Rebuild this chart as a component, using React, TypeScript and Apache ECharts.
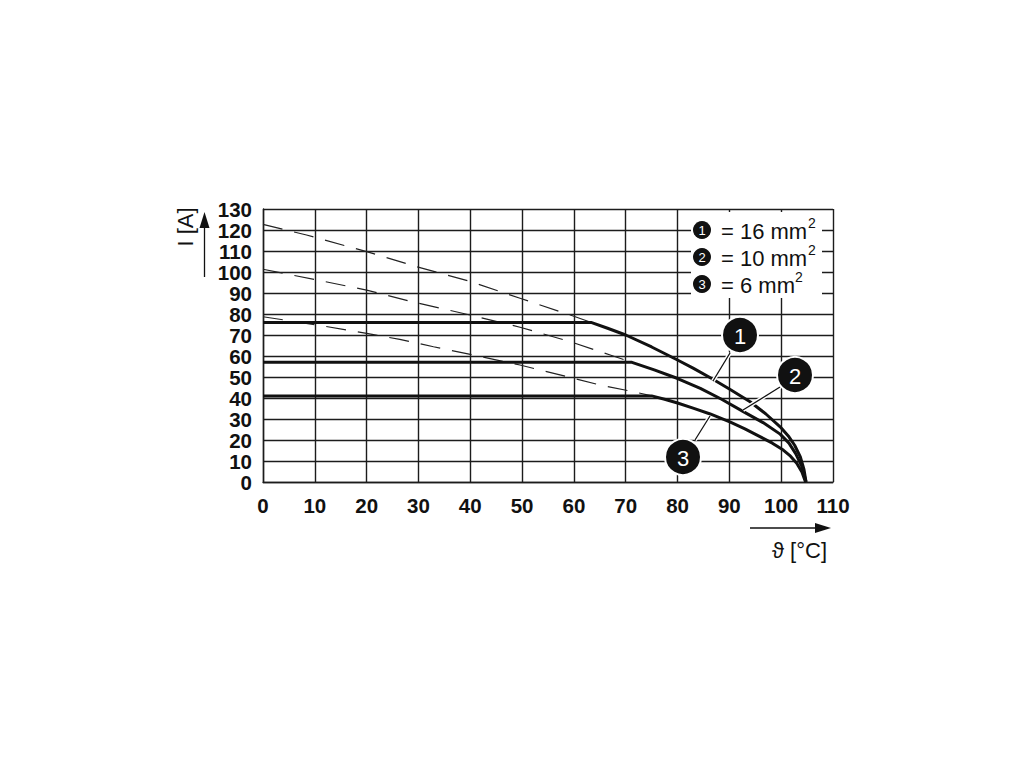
import React, { useEffect, useRef } from "react";
import * as echarts from "echarts";

const xTicks = [0, 10, 20, 30, 40, 50, 60, 70, 80, 90, 100, 110];
const yTicks = [0, 10, 20, 30, 40, 50, 60, 70, 80, 90, 100, 110, 120, 130];

// solid derating curves [temperature °C, current A]
const curve16: number[][] = [
  [0, 76], [63.3, 76], [66.5, 73.2], [70, 70], [75, 64.3], [79.9, 58.2],
  [83, 54.2], [86.5, 49.4], [90, 44.3], [94, 38.2], [97, 32.5],
  [99.8, 26.3], [101.5, 21.5], [102.6, 17.5], [103.7, 12], [104.4, 6], [104.8, 0],
];
const curve10: number[][] = [
  [0, 57], [71.2, 57], [75.5, 53.4], [79.9, 49.4], [84.4, 44.6], [88.5, 39.4],
  [92.7, 33.5], [96.5, 28.3], [99.8, 22.8], [101.5, 18.5], [102.8, 13.5],
  [104, 7.3], [104.8, 0],
];
const curve6: number[][] = [
  [0, 41], [75, 41], [77.5, 39.4], [80, 37.6], [83, 35.2], [86.3, 32.4],
  [90.2, 28.5], [93, 25.3], [95.9, 21.6], [98.3, 18.5], [100.4, 15.2],
  [101.8, 12.3], [103, 8.9], [104, 4.8], [104.7, 0],
];
// dashed extrapolations
const dash16: number[][] = [
  [0, 122.7], [8.4, 117.6], [20, 109.7], [29.7, 102.5], [40, 95.5],
  [49.6, 87.5], [59.3, 79.5], [63.3, 76],
];
const dash10: number[][] = [
  [0, 101.3], [10.4, 96.2], [20, 91.4], [28, 86.3], [40, 79.5],
  [49.6, 73.7], [59.3, 66.8], [67, 60.5], [71.2, 57],
];
const dash6: number[][] = [
  [0, 78.7], [10.4, 74.8], [20, 70.8], [26.4, 67.9], [32.9, 64.4],
  [40.6, 60.5], [49.6, 55.7], [57.3, 51], [65, 46.2], [71.5, 43], [75, 41],
];

const legendNums = ["1", "2", "3"];
const legendTexts = ["= 16 mm", "= 10 mm", "= 6 mm"];

const FONT = "'Liberation Sans', Arial, Helvetica, sans-serif";

export default function App() {
  const ref = useRef<HTMLDivElement>(null);
  useEffect(() => {
    if (!ref.current) return;
    const chart = echarts.init(ref.current, undefined, { renderer: "svg" });
    const gridColor = "#1c1c1c";
    const solid = (data: number[][], name: string) => ({
      type: "line",
      name,
      data,
      symbol: "none",
      lineStyle: { color: "#111", width: 3, join: "round" },
      z: 4,
    });
    const dashed = (data: number[][], name: string) => ({
      type: "line",
      name,
      data,
      symbol: "none",
      lineStyle: { color: "#222", width: 1.2, type: [20, 12] },
      z: 3,
    });

    const legendY = [230, 257, 284];
    const legendGraphics: any[] = [
      { type: "rect", shape: { x: 691, y: 212, width: 131, height: 86 }, style: { fill: "#fff" }, z: 10 },
    ];
    legendNums.forEach((n, i) => {
      legendGraphics.push({ type: "circle", shape: { cx: 702, cy: legendY[i], r: 9 }, style: { fill: "#111" }, z: 11 });
      legendGraphics.push({
        type: "text", x: 702, y: legendY[i] + 0.5, z: 12,
        style: { text: n, fill: "#fff", font: `13px ${FONT}`, lineHeight: 13, align: "center", verticalAlign: "middle" },
      });
      legendGraphics.push({
        type: "text", x: 721, y: legendY[i] + 1, z: 12,
        style: { text: legendTexts[i], fill: "#111", font: `22px ${FONT}`, lineHeight: 18, align: "left", verticalAlign: "middle" },
      });
    });
    const supX = [808, 808, 795];
    legendNums.forEach((_, i) => {
      legendGraphics.push({
        type: "text", x: supX[i], y: legendY[i] - 7, z: 12,
        style: { text: "2", fill: "#111", font: `14px ${FONT}`, lineHeight: 10, align: "left", verticalAlign: "middle" },
      });
    });

    const callouts = [
      { c: [740, 335], l: [730, 353, 713, 381], t: "1" },
      { c: [795, 375], l: [780, 387, 743, 410], t: "2" },
      { c: [683, 457], l: [695, 440, 710, 416], t: "3" },
    ];
    const calloutGraphics: any[] = [];
    callouts.forEach((co) => {
      calloutGraphics.push({
        type: "line", z: 13,
        shape: { x1: co.l[0], y1: co.l[1], x2: co.l[2], y2: co.l[3] },
        style: { stroke: "#fff", lineWidth: 4 },
      });
      calloutGraphics.push({
        type: "line", z: 14,
        shape: { x1: co.l[0], y1: co.l[1], x2: co.l[2], y2: co.l[3] },
        style: { stroke: "#111", lineWidth: 1.3 },
      });
      calloutGraphics.push({
        type: "circle", z: 15, shape: { cx: co.c[0], cy: co.c[1], r: 18 },
        style: { fill: "#111", stroke: "#fff", lineWidth: 2 },
      });
      calloutGraphics.push({
        type: "text", z: 16, x: co.c[0], y: co.c[1] + 1,
        style: { text: co.t, fill: "#fff", font: `22px ${FONT}`, align: "center", verticalAlign: "middle" },
      });
    });

    const axisGraphics: any[] = [
      { type: "line", shape: { x1: 204.5, y1: 277, x2: 204.5, y2: 226 }, style: { stroke: "#111", lineWidth: 1.3 } },
      { type: "polygon", shape: { points: [[199.5, 228], [209.5, 228], [204.5, 212]] }, style: { fill: "#111" } },
      {
        type: "text", x: 185, y: 227, rotation: Math.PI / 2,
        style: { text: "I [A]", fill: "#111", font: `22px ${FONT}`, align: "center", verticalAlign: "middle" },
      },
      { type: "line", shape: { x1: 750, y1: 528, x2: 817, y2: 528 }, style: { stroke: "#111", lineWidth: 1.3 } },
      { type: "polygon", shape: { points: [[815, 523], [815, 533], [831, 528]] }, style: { fill: "#111" } },
      {
        type: "text", x: 827, y: 550,
        style: { text: "ϑ [°C]", fill: "#111", font: `22px ${FONT}`, align: "right", verticalAlign: "middle" },
      },
    ];

    const labelStyle = {
      color: "#111", fontFamily: FONT, fontWeight: "bold", fontSize: 20.5, lineHeight: 20,
      margin: 11, showMinLabel: true, showMaxLabel: true, hideOverlap: false,
    };

    chart.setOption({
      animation: false,
      backgroundColor: "#fff",
      grid: { left: 263, top: 209, right: 187, bottom: 283, containLabel: false },
      xAxis: {
        type: "value",
        min: xTicks[0],
        max: xTicks[xTicks.length - 1],
        interval: 10,
        axisLine: { show: true, onZero: false, lineStyle: { color: gridColor, width: 1.4 } },
        axisTick: { show: false },
        splitLine: { show: true, lineStyle: { color: gridColor, width: 1.4 } },
        axisLabel: { ...labelStyle, margin: 13 },
      },
      yAxis: {
        type: "value",
        min: yTicks[0],
        max: yTicks[yTicks.length - 1],
        interval: 10,
        axisLine: { show: true, lineStyle: { color: gridColor, width: 1.4 } },
        axisTick: { show: false },
        splitLine: { show: true, lineStyle: { color: gridColor, width: 1.4 } },
        axisLabel: labelStyle,
      },
      series: [
        dashed(dash16, "dash16"),
        dashed(dash10, "dash10"),
        dashed(dash6, "dash6"),
        solid(curve16, "16 mm²"),
        solid(curve10, "10 mm²"),
        solid(curve6, "6 mm²"),
      ],
      graphic: [...axisGraphics, ...legendGraphics, ...calloutGraphics],
    } as any);
    return () => chart.dispose();
  }, []);
  return (
    <div
      ref={ref}
      style={{ position: "absolute", left: 0, top: 0, width: 1020, height: 765, background: "#fff" }}
    />
  );
}
